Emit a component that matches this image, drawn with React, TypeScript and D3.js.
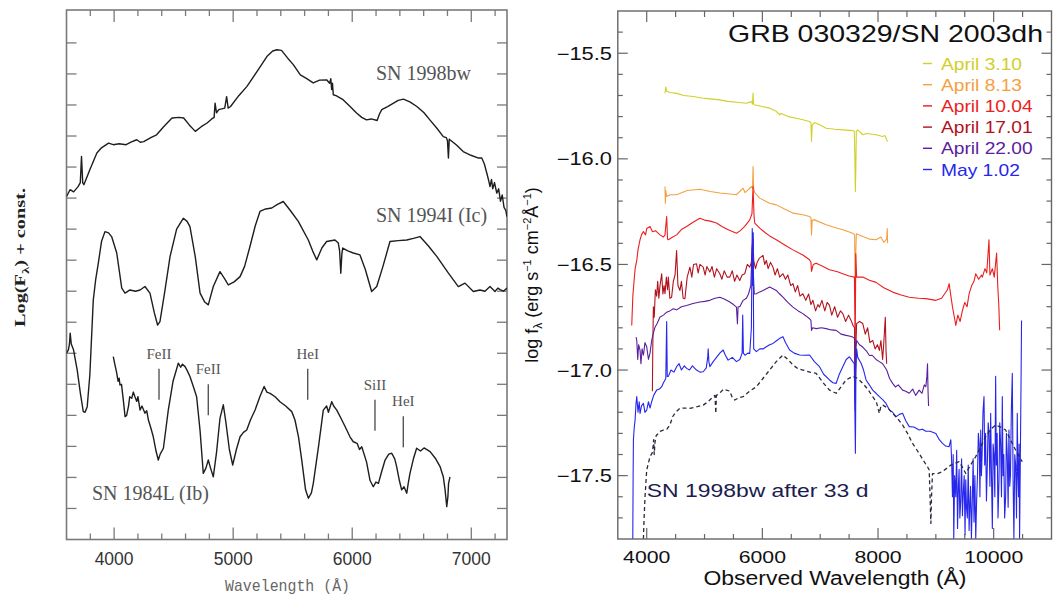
import React from "react";
import * as d3 from "d3";

type P = [number, number];

// ---------------- Left panel data (wavelength Å, log F + const, tick units) ----------------
const sn1998bw: P[] = [
  [3600, 11.05], [3630, 11.27], [3660, 11.2], [3697, 11.37], [3716, 11.5], [3726, 12.34], [3736, 11.5], [3746, 11.43],
  [3796, 11.91], [3855, 12.45], [3894, 12.62], [3953, 12.77], [3993, 12.72], [4042, 12.75], [4101, 12.72], [4141, 12.8],
  [4190, 12.88], [4220, 12.8], [4249, 12.82], [4308, 12.95], [4357, 13.04], [4416, 13.3], [4486, 13.58], [4545, 13.6],
  [4584, 13.58], [4633, 13.35], [4682, 13.15], [4732, 13.3], [4781, 13.42], [4820, 13.55], [4840, 13.6], [4848, 14.06],
  [4860, 13.75], [4879, 13.85], [4929, 13.9], [4945, 14.27], [4958, 13.9], [4978, 13.95], [5047, 14.3], [5116, 14.6],
  [5204, 15.1], [5283, 15.56], [5332, 15.74], [5367, 15.78], [5406, 15.76], [5460, 15.5], [5505, 15.3], [5564, 14.97],
  [5618, 14.85], [5672, 14.71], [5726, 14.8], [5785, 14.81], [5810, 14.7], [5820, 14.85], [5827, 14.5], [5834, 14.7],
  [5841, 14.33], [5864, 14.3], [5923, 14.17], [5982, 13.95], [6036, 13.74], [6080, 13.6], [6120, 13.52], [6160, 13.55],
  [6209, 13.5], [6228, 13.7], [6248, 13.85], [6297, 13.95], [6347, 14.06], [6386, 14.15], [6430, 14.19], [6484, 14.1],
  [6543, 13.95], [6603, 13.75], [6652, 13.52], [6711, 13.25], [6765, 12.98], [6790, 12.95], [6800, 12.85], [6808, 12.29],
  [6815, 12.9], [6821, 12.88], [6878, 12.7], [6932, 12.5], [6997, 12.38], [7061, 12.29], [7088, 12.29], [7110, 12.1],
  [7130, 11.81], [7144, 11.6], [7157, 11.37], [7170, 11.6], [7180, 11.3], [7195, 11.5], [7214, 11.16], [7230, 11.3],
  [7245, 10.9], [7260, 11.1], [7275, 10.7], [7290, 10.6], [7300, 10.4],
];

const sn1994I: P[] = [
  [3600, 6.0], [3616, 6.11], [3625, 6.3], [3631, 6.65], [3640, 6.3], [3659, 6.11], [3690, 5.46], [3717, 4.7],
  [3741, 4.12], [3756, 4.1], [3774, 4.28], [3796, 5.3], [3825, 7.72], [3846, 8.4], [3867, 8.9], [3894, 9.6],
  [3923, 9.92], [3953, 9.88], [3979, 9.76], [4022, 9.23], [4064, 8.1], [4092, 7.94], [4133, 8.04], [4180, 8.0],
  [4218, 8.04], [4259, 8.15], [4301, 7.94], [4338, 7.3], [4365, 6.91], [4385, 7.02], [4426, 8.0], [4470, 9.12],
  [4525, 10.0], [4581, 10.35], [4613, 10.25], [4637, 10.08], [4682, 9.1], [4722, 7.94], [4761, 7.65], [4791, 7.56],
  [4833, 8.15], [4889, 8.63], [4929, 8.4], [4959, 8.2], [5008, 8.3], [5058, 8.47], [5096, 8.8], [5141, 9.44],
  [5185, 10.1], [5225, 10.57], [5273, 10.65], [5324, 10.68], [5372, 10.8], [5421, 10.89], [5480, 10.6], [5547, 10.25],
  [5631, 9.65], [5667, 9.3], [5702, 9.01], [5746, 9.4], [5785, 9.6], [5855, 9.65], [5883, 9.55], [5894, 9.3],
  [5904, 8.58], [5913, 9.2], [5920, 9.39], [5963, 9.3], [6009, 9.23], [6065, 9.17], [6110, 8.7], [6163, 7.99],
  [6206, 8.15], [6258, 8.8], [6317, 9.6], [6386, 9.63], [6458, 9.65], [6514, 9.7], [6569, 9.76], [6642, 9.45],
  [6710, 9.12], [6808, 8.58], [6891, 8.15], [6947, 8.26], [7017, 7.99], [7073, 8.04], [7115, 8.0], [7157, 8.15],
  [7199, 7.99], [7223, 8.1], [7242, 8.05], [7270, 8.0], [7300, 8.1],
];

const sn1984L: P[] = [
  [3993, 5.89], [4003, 5.7], [4022, 5.36], [4033, 5.1], [4042, 5.2], [4049, 4.98], [4062, 5.0], [4077, 4.5],
  [4092, 3.96], [4105, 4.0], [4121, 4.3], [4131, 4.6], [4148, 4.55], [4161, 4.75], [4175, 4.6], [4190, 4.45],
  [4200, 4.6], [4218, 4.17], [4234, 4.3], [4259, 4.07], [4274, 4.15], [4288, 3.85], [4308, 3.6], [4329, 3.31],
  [4352, 2.85], [4371, 2.56], [4387, 2.75], [4414, 2.94], [4436, 3.6], [4455, 4.17], [4495, 5.1], [4539, 5.68],
  [4559, 5.55], [4574, 5.65], [4596, 5.57], [4613, 5.45], [4637, 5.25], [4668, 4.9], [4693, 4.6], [4722, 3.5],
  [4749, 2.13], [4771, 2.3], [4791, 2.56], [4810, 2.3], [4833, 2.02], [4860, 2.8], [4889, 3.9], [4917, 4.34],
  [4938, 3.8], [4968, 2.9], [4996, 2.4], [5027, 2.9], [5058, 3.31], [5086, 3.45], [5114, 3.53], [5145, 3.85],
  [5184, 4.17], [5224, 4.6], [5260, 4.93], [5283, 4.75], [5310, 4.71], [5352, 4.6], [5393, 4.44], [5441, 4.3],
  [5492, 4.12], [5519, 3.85], [5549, 3.3], [5576, 2.56], [5608, 1.6], [5632, 1.33], [5657, 1.5], [5673, 1.81],
  [5717, 3.0], [5757, 4.17], [5785, 4.3], [5800, 4.1], [5828, 4.44], [5844, 4.3], [5870, 4.17], [5913, 3.85],
  [5954, 3.53], [5982, 3.3], [6009, 3.15], [6041, 3.1], [6061, 2.9], [6080, 2.99], [6120, 2.5], [6150, 1.9],
  [6177, 1.7], [6199, 1.85], [6220, 1.81], [6248, 2.2], [6276, 2.56], [6307, 2.75], [6332, 2.78], [6357, 2.6],
  [6373, 2.35], [6396, 1.9], [6415, 1.6], [6435, 1.7], [6458, 1.49], [6470, 1.8], [6485, 2.13], [6514, 2.6],
  [6541, 2.94], [6573, 2.85], [6603, 2.95], [6654, 2.83], [6701, 2.6], [6738, 2.35], [6750, 2.2], [6765, 2.02],
  [6780, 1.6], [6794, 1.06], [6804, 1.4], [6809, 1.8], [6821, 2.02],
];

const lineLabels = ["FeII", "FeII", "HeI", "SiII", "HeI"];
const lineWaves = [4377, 4791, 5626, 6191, 6429];
const lineTops = [5.5, 5.0, 5.5, 4.5, 3.97];

const spLabels = ["SN 1998bw", "SN 1994I (Ic)", "SN 1984L (Ib)"];

const leftMajorX = [4000, 5000, 6000, 7000];
const leftMinorX = [3800, 4200, 4400, 4600, 4800, 5200, 5400, 5600, 5800, 6200, 6400, 6600, 6800, 7200];
const leftYTicks = [1, 2, 3, 4, 5, 6, 7, 8, 9, 10, 11, 12, 13, 14, 15, 16];

// ---------------- Right panel data (observed wavelength Å, log f_lambda) ----------------
const april03: P[] = [
  [4316, -15.69], [4330, -15.66], [4345, -15.68], [4402, -15.686], [4520, -15.69], [4640, -15.7], [4805, -15.705],
  [4950, -15.712], [5100, -15.716], [5264, -15.721], [5400, -15.728], [5552, -15.732], [5724, -15.737], [5810, -15.729],
  [5830, -15.74], [5839, -15.689], [5847, -15.735], [5856, -15.744], [6000, -15.752], [6126, -15.76], [6241, -15.775],
  [6299, -15.792], [6320, -15.785], [6450, -15.8], [6586, -15.808], [6700, -15.815], [6816, -15.823], [6840, -15.83],
  [6850, -15.918], [6862, -15.84], [6902, -15.828], [7000, -15.84], [7103, -15.855], [7250, -15.86], [7391, -15.863],
  [7500, -15.865], [7563, -15.866], [7590, -15.87], [7600, -16.0], [7608, -16.155], [7616, -16.05], [7625, -15.87],
  [7649, -15.863], [7736, -15.886], [7800, -15.88], [7966, -15.886], [8080, -15.894], [8120, -15.89], [8150, -15.91],
  [8166, -15.918],
];

const april08: P[] = [
  [4316, -16.131], [4322, -16.21], [4330, -16.15], [4345, -16.178], [4400, -16.17], [4517, -16.17], [4700, -16.15],
  [4920, -16.144], [5100, -16.155], [5264, -16.162], [5400, -16.165], [5552, -16.17], [5667, -16.139], [5700, -16.16],
  [5753, -16.147], [5810, -16.131], [5830, -16.14], [5839, -16.036], [5848, -16.14], [5868, -16.16], [5954, -16.186],
  [6126, -16.21], [6241, -16.218], [6400, -16.24], [6529, -16.257], [6700, -16.265], [6816, -16.273], [6840, -16.28],
  [6850, -16.36], [6862, -16.29], [6902, -16.289], [7103, -16.312], [7250, -16.325], [7391, -16.336], [7563, -16.352],
  [7595, -16.36], [7605, -16.62], [7615, -16.45], [7625, -16.355], [7736, -16.368], [7850, -16.38], [7966, -16.383],
  [8050, -16.37], [8100, -16.395], [8150, -16.38], [8160, -16.33], [8166, -16.4],
];

const april10: P[] = [
  [3741, -16.789], [3760, -16.65], [3782, -16.576], [3800, -16.52], [3828, -16.481], [3850, -16.43], [3885, -16.383],
  [3910, -16.36], [3943, -16.344], [3980, -16.36], [4000, -16.33], [4057, -16.32], [4100, -16.345], [4150, -16.34],
  [4230, -16.36], [4290, -16.37], [4316, -16.36], [4345, -16.273], [4360, -16.38], [4374, -16.383], [4450, -16.37],
  [4517, -16.36], [4600, -16.335], [4690, -16.32], [4800, -16.3], [4920, -16.281], [5000, -16.29], [5100, -16.295],
  [5207, -16.304], [5300, -16.32], [5400, -16.335], [5552, -16.352], [5620, -16.34], [5695, -16.32], [5782, -16.289],
  [5820, -16.26], [5839, -16.131], [5856, -16.27], [5868, -16.304], [5954, -16.328], [6050, -16.35], [6126, -16.365],
  [6241, -16.383], [6400, -16.41], [6529, -16.431], [6700, -16.455], [6816, -16.478], [6840, -16.49], [6850, -16.533],
  [6880, -16.5], [6931, -16.494], [7050, -16.51], [7161, -16.525], [7300, -16.535], [7391, -16.544], [7500, -16.555],
  [7592, -16.56], [7605, -16.907], [7615, -16.45], [7630, -16.56], [7736, -16.56], [7850, -16.575], [7966, -16.585],
  [8100, -16.61], [8253, -16.631], [8400, -16.645], [8540, -16.655], [8700, -16.66], [8827, -16.662], [9000, -16.67],
  [9100, -16.66], [9200, -16.62], [9230, -16.591], [9260, -16.65], [9287, -16.7], [9320, -16.75], [9345, -16.789],
  [9380, -16.74], [9420, -16.77], [9460, -16.718], [9500, -16.68], [9540, -16.7], [9575, -16.639], [9620, -16.6],
  [9660, -16.58], [9690, -16.544], [9740, -16.57], [9790, -16.55], [9804, -16.56], [9850, -16.52], [9880, -16.54],
  [9919, -16.383], [9935, -16.55], [9977, -16.52], [10010, -16.56], [10051, -16.446], [10070, -16.6], [10090, -16.7],
  [10103, -16.812],
];

const april17: P[] = [
  [4098, -17.1], [4105, -16.9], [4115, -16.7], [4130, -16.75], [4150, -16.62], [4172, -16.65], [4190, -16.58],
  [4210, -16.66], [4230, -16.6], [4259, -16.544], [4280, -16.64], [4300, -16.6], [4316, -16.639], [4340, -16.56],
  [4360, -16.62], [4374, -16.56], [4400, -16.66], [4431, -16.655], [4460, -16.58], [4490, -16.55], [4517, -16.434],
  [4540, -16.6], [4575, -16.623], [4600, -16.58], [4630, -16.66], [4661, -16.662], [4700, -16.56], [4747, -16.513],
  [4780, -16.56], [4810, -16.5], [4862, -16.497], [4890, -16.54], [4920, -16.5], [4977, -16.513], [5010, -16.55],
  [5040, -16.51], [5092, -16.536], [5130, -16.51], [5170, -16.56], [5210, -16.52], [5264, -16.544], [5300, -16.57],
  [5340, -16.53], [5390, -16.56], [5437, -16.56], [5480, -16.53], [5520, -16.58], [5560, -16.55], [5609, -16.576],
  [5650, -16.55], [5695, -16.544], [5740, -16.5], [5782, -16.513], [5810, -16.49], [5825, -16.42], [5839, -16.38],
  [5850, -16.48], [5880, -16.52], [5910, -16.49], [5950, -16.47], [6011, -16.457], [6040, -16.5], [6069, -16.481],
  [6100, -16.52], [6140, -16.49], [6184, -16.513], [6220, -16.55], [6260, -16.52], [6300, -16.56], [6356, -16.544],
  [6400, -16.57], [6440, -16.55], [6490, -16.6], [6529, -16.591], [6570, -16.63], [6610, -16.6], [6650, -16.65],
  [6701, -16.639], [6750, -16.67], [6800, -16.64], [6840, -16.69], [6874, -16.67], [6920, -16.72], [6960, -16.69],
  [6988, -16.702], [7030, -16.67], [7080, -16.72], [7120, -16.68], [7161, -16.694], [7200, -16.74], [7250, -16.7],
  [7300, -16.75], [7350, -16.72], [7391, -16.733], [7440, -16.77], [7490, -16.74], [7534, -16.765], [7570, -16.79],
  [7595, -16.8], [7605, -17.19], [7615, -16.9], [7630, -16.78], [7680, -16.77], [7736, -16.78], [7780, -16.83],
  [7820, -16.8], [7860, -16.87], [7908, -16.86], [7950, -16.9], [7990, -16.88], [8023, -16.907], [8050, -16.86],
  [8080, -16.95], [8100, -16.87], [8126, -16.75], [8140, -16.92], [8150, -16.97],
];

const april22: P[] = [
  [3816, -16.844], [3828, -16.86], [3845, -16.95], [3860, -16.88], [3885, -16.907], [3900, -16.97], [3920, -16.9],
  [3943, -16.93], [3970, -16.87], [4000, -16.89], [4030, -16.95], [4057, -16.92], [4086, -16.86], [4110, -16.83],
  [4144, -16.797], [4180, -16.78], [4230, -16.749], [4290, -16.74], [4345, -16.726], [4400, -16.72], [4460, -16.71],
  [4517, -16.715], [4600, -16.7], [4690, -16.694], [4800, -16.685], [4920, -16.678], [5000, -16.675], [5092, -16.67],
  [5180, -16.66], [5264, -16.655], [5350, -16.665], [5437, -16.678], [5500, -16.69], [5552, -16.702], [5569, -16.781],
  [5580, -16.7], [5609, -16.7], [5667, -16.67], [5724, -16.66], [5760, -16.64], [5800, -16.6], [5820, -16.45],
  [5835, -16.35], [5845, -16.55], [5860, -16.64], [5897, -16.639], [5954, -16.63], [6011, -16.623], [6069, -16.615],
  [6126, -16.607], [6184, -16.615], [6241, -16.623], [6300, -16.64], [6356, -16.655], [6440, -16.68], [6529, -16.702],
  [6620, -16.72], [6701, -16.733], [6760, -16.745], [6816, -16.757], [6840, -16.765], [6850, -16.812], [6870, -16.8],
  [6931, -16.804], [7020, -16.8], [7103, -16.804], [7190, -16.81], [7276, -16.812], [7360, -16.83], [7448, -16.836],
  [7520, -16.84], [7563, -16.844], [7595, -16.85], [7605, -17.15], [7615, -16.9], [7630, -16.86], [7680, -16.88],
  [7736, -16.891], [7800, -16.91], [7851, -16.931], [7900, -16.93], [7966, -16.95], [8023, -16.96], [8080, -16.97],
  [8150, -17.0], [8200, -17.04], [8253, -17.063], [8300, -17.08], [8350, -17.07], [8425, -17.095], [8480, -17.1],
  [8540, -17.11], [8600, -17.09], [8650, -17.12], [8712, -17.095], [8760, -17.11], [8800, -17.07], [8827, -17.079],
  [8845, -17.03], [8856, -16.97], [8865, -17.1], [8874, -17.17],
];

const may01: P[] = [
  [3759, -17.8], [3765, -17.5], [3770, -17.33], [3785, -17.27], [3799, -17.237], [3815, -17.16], [3828, -17.126],
  [3850, -17.2], [3870, -17.15], [3885, -17.205], [3910, -17.17], [3943, -17.158], [3970, -17.2], [4000, -17.19],
  [4030, -17.15], [4057, -17.18], [4086, -17.15], [4120, -17.12], [4172, -17.095], [4220, -17.09], [4259, -17.079],
  [4290, -17.06], [4316, -17.047], [4330, -17.04], [4345, -16.77], [4355, -17.03], [4374, -17.03], [4420, -17.0],
  [4470, -17.01], [4517, -16.984], [4560, -16.97], [4600, -17.0], [4650, -16.98], [4690, -16.992], [4740, -17.0],
  [4790, -16.98], [4862, -17.0], [4920, -17.01], [4977, -17.008], [5030, -16.99], [5055, -16.94], [5063, -16.9],
  [5075, -16.96], [5092, -16.984], [5150, -16.96], [5207, -16.94], [5264, -16.92], [5322, -16.905], [5360, -16.93],
  [5408, -16.953], [5480, -16.94], [5552, -16.96], [5610, -16.95], [5650, -16.92], [5660, -16.74], [5672, -16.92],
  [5700, -16.93], [5750, -16.92], [5782, -16.921], [5810, -16.8], [5825, -16.33], [5835, -16.6], [5840, -16.35],
  [5850, -16.9], [5897, -16.913], [5954, -16.9], [6011, -16.9], [6069, -16.89], [6126, -16.88], [6184, -16.874],
  [6250, -16.86], [6300, -16.85], [6356, -16.842], [6400, -16.87], [6471, -16.905], [6550, -16.92], [6644, -16.929],
  [6720, -16.93], [6816, -16.929], [6900, -16.96], [6988, -16.984], [7060, -17.02], [7161, -17.047], [7220, -17.06],
  [7276, -17.063], [7330, -17.02], [7391, -16.984], [7450, -16.95], [7506, -16.937], [7563, -16.96], [7590, -16.97],
  [7600, -17.2], [7609, -17.394], [7618, -17.0], [7630, -16.9], [7649, -16.94], [7707, -16.968], [7750, -17.0],
  [7793, -17.047], [7850, -17.07], [7908, -17.095], [7966, -17.11], [8023, -17.126], [8080, -17.14], [8138, -17.158],
  [8200, -17.19], [8253, -17.2], [8310, -17.221], [8370, -17.21], [8425, -17.205], [8480, -17.24], [8540, -17.268],
  [8620, -17.27], [8712, -17.284], [8770, -17.28], [8827, -17.29], [8900, -17.29], [9000, -17.3], [9060, -17.33],
  [9115, -17.347], [9170, -17.36], [9230, -17.363], [9259, -17.33], [9275, -17.45], [9287, -17.6], [9300, -17.4],
  [9310, -17.8], [9325, -17.5], [9345, -17.6], [9360, -17.38], [9375, -17.75], [9390, -17.55], [9402, -17.47],
  [9415, -17.7], [9430, -17.62], [9445, -17.42], [9460, -17.69], [9475, -17.58], [9490, -17.5], [9505, -17.78],
  [9517, -17.52], [9530, -17.65], [9545, -17.7], [9560, -17.45], [9575, -17.76], [9590, -17.62], [9600, -17.55],
  [9615, -17.8], [9632, -17.6], [9645, -17.42], [9660, -17.72], [9675, -17.5], [9690, -17.8], [9705, -17.62],
  [9720, -17.5], [9735, -17.3], [9750, -17.35], [9762, -17.6], [9776, -17.284], [9788, -17.5], [9800, -17.4],
  [9815, -17.2], [9833, -17.126], [9845, -17.45], [9860, -17.3], [9875, -17.62], [9891, -17.44], [9905, -17.25],
  [9920, -17.3], [9935, -17.55], [9948, -17.205], [9962, -17.5], [9977, -17.75], [9990, -17.35], [10005, -17.4],
  [10020, -17.6], [10034, -17.03], [10046, -17.45], [10060, -17.3], [10075, -17.7], [10092, -17.52], [10105, -17.25],
  [10120, -17.35], [10135, -17.6], [10149, -17.126], [10162, -17.5], [10175, -17.4], [10190, -17.7], [10207, -17.6],
  [10220, -17.3], [10235, -17.4], [10250, -17.65], [10264, -17.284], [10278, -17.55], [10290, -17.5], [10305, -17.2],
  [10322, -17.016], [10335, -17.5], [10350, -17.8], [10365, -17.4], [10380, -17.45], [10395, -17.7], [10408, -17.205],
  [10420, -17.5], [10430, -17.6], [10440, -17.35], [10448, -17.8], [10458, -17.5], [10465, -17.3], [10475, -17.0],
  [10482, -16.765],
];

const sn1998bw33d: P[] = [
  [3943, -17.8], [3955, -17.7], [3971, -17.6], [4000, -17.473], [4030, -17.44], [4057, -17.41], [4100, -17.39],
  [4120, -17.33], [4130, -17.4], [4144, -17.34], [4165, -17.31], [4201, -17.3], [4230, -17.29], [4287, -17.284],
  [4350, -17.28], [4402, -17.26], [4450, -17.22], [4500, -17.2], [4575, -17.181], [4650, -17.18], [4747, -17.181],
  [4850, -17.175], [4977, -17.166], [5060, -17.15], [5149, -17.126], [5180, -17.12], [5195, -17.205], [5205, -17.12],
  [5260, -17.11], [5330, -17.09], [5379, -17.095], [5437, -17.1], [5480, -17.13], [5523, -17.142], [5600, -17.13],
  [5667, -17.126], [5780, -17.1], [5897, -17.079], [6010, -17.04], [6126, -17.0], [6240, -16.96], [6356, -16.929],
  [6440, -16.95], [6529, -16.976], [6620, -16.995], [6701, -17.0], [6820, -17.01], [6931, -17.016], [7050, -17.06],
  [7161, -17.095], [7276, -17.11], [7360, -17.08], [7448, -17.047], [7563, -17.03], [7650, -17.04], [7736, -17.063],
  [7820, -17.09], [7908, -17.126], [7970, -17.15], [8023, -17.205], [8050, -17.17], [8080, -17.166], [8170, -17.18],
  [8253, -17.205], [8340, -17.23], [8425, -17.26], [8510, -17.3], [8597, -17.347], [8700, -17.39], [8798, -17.434],
  [8860, -17.46], [8885, -17.473], [8900, -17.6], [8914, -17.726], [8925, -17.6], [8942, -17.49], [9030, -17.49],
  [9115, -17.481], [9260, -17.45], [9402, -17.434], [9460, -17.46], [9517, -17.49], [9600, -17.45], [9690, -17.41],
  [9780, -17.36], [9862, -17.315], [9950, -17.28], [10034, -17.26], [10120, -17.27], [10207, -17.284], [10290, -17.33],
  [10379, -17.379], [10494, -17.434],
];

const epochLabels = ["April 3.10", "April 8.13", "April 10.04", "April 17.01", "April 22.00", "May 1.02"];
const epochColors = ["#d0d028", "#f4a042", "#ec1e1e", "#b2121e", "#5a1e9e", "#2626ec"];
const epochSeries = [april03, april08, april10, april17, april22, may01];

const rightMajorX = [4000, 6000, 8000, 10000];
const rightMinorX = [4500, 5000, 5500, 6500, 7000, 7500, 8500, 9000, 9500, 10500];
const rightMajorY = [-15.5, -16.0, -16.5, -17.0, -17.5];
const rightMinorY = [-15.4, -15.6, -15.7, -15.8, -15.9, -16.1, -16.2, -16.3, -16.4, -16.6, -16.7, -16.8, -16.9,
  -17.1, -17.2, -17.3, -17.4, -17.6, -17.7];

// ---------------- Scales ----------------
const xL = d3.scaleLinear().domain([3600, 7300]).range([66.5, 507]);
const yL = d3.scaleLinear().domain([0, 17.06]).range([539.5, 10]);
const xR = d3.scaleLinear().domain([3500, 11000]).range([617.8, 1051.5]);
const yR = d3.scaleLinear().domain([-17.8, -15.3]).range([539, 11]);

const lineL = d3.line<P>().x((d) => xL(d[0])).y((d) => yL(d[1]));
const lineR = d3.line<P>().x((d) => xR(d[0])).y((d) => yR(d[1]));

const SANS = "'Liberation Sans', Arial, Helvetica, sans-serif";
const SERIF = "'Liberation Serif', 'Times New Roman', serif";
const MONO = "'Liberation Mono', 'Courier New', monospace";

const fmtY = (v: number) => (v < 0 ? "\u2212" : "") + Math.abs(v).toFixed(1);

export default function App() {
  const [l0, l1] = xL.range();
  const [lb, lt] = yL.range();
  const [r0, r1] = xR.range();
  const [rb, rt] = yR.range();
  const lc = "#7a7a7a";
  const rc = "#666";

  return (
    <svg
      width={1053}
      height={599}
      style={{ position: "absolute", left: 0, top: 0, background: "#fff" }}
      xmlns="http://www.w3.org/2000/svg"
    >
      <defs>
        <clipPath id="clipL">
          <rect x={l0} y={lt} width={l1 - l0} height={lb - lt} />
        </clipPath>
        <clipPath id="clipR">
          <rect x={r0} y={rt} width={r1 - r0} height={rb - rt} />
        </clipPath>
      </defs>

      {/* ================= LEFT PANEL ================= */}
      <g>
        {leftYTicks.map((t) => (
          <g key={"ly" + t} stroke={lc} strokeWidth={1.3}>
            <line x1={l0} x2={l0 + 10} y1={yL(t)} y2={yL(t)} />
            <line x1={l1} x2={l1 - 10} y1={yL(t)} y2={yL(t)} />
          </g>
        ))}
        {leftMajorX.map((t) => (
          <g key={"lx" + t} stroke={lc} strokeWidth={1.3}>
            <line x1={xL(t)} x2={xL(t)} y1={lb} y2={lb - 12} />
            <line x1={xL(t)} x2={xL(t)} y1={lt} y2={lt + 12} />
          </g>
        ))}
        {leftMinorX.map((t) => (
          <g key={"lxm" + t} stroke={lc} strokeWidth={1.3}>
            <line x1={xL(t)} x2={xL(t)} y1={lb} y2={lb - 6} />
            <line x1={xL(t)} x2={xL(t)} y1={lt} y2={lt + 6} />
          </g>
        ))}
        <rect x={l0} y={lt} width={l1 - l0} height={lb - lt} fill="none" stroke={lc} strokeWidth={1.6} />

        <g clipPath="url(#clipL)" fill="none" stroke="#1e1e1e" strokeWidth={1.4} strokeLinejoin="round">
          <path d={lineL(sn1998bw) || ""} />
          <path d={lineL(sn1994I) || ""} />
          <path d={lineL(sn1984L) || ""} />
        </g>

        {lineWaves.map((w, i) => (
          <g key={"id" + i}>
            <line x1={xL(w)} x2={xL(w)} y1={yL(lineTops[i])} y2={yL(lineTops[i] - 1)} stroke="#555" strokeWidth={1.4} />
            <text x={xL(w)} y={yL(lineTops[i]) - 10} textAnchor="middle" fontFamily={SERIF} fontSize={15} fill="#555">
              {lineLabels[i]}
            </text>
          </g>
        ))}

        <text x={376} y={80} fontFamily={SERIF} fontSize={20} fill="#555">{spLabels[0]}</text>
        <text x={376} y={221.5} fontFamily={SERIF} fontSize={20} fill="#555">{spLabels[1]}</text>
        <text x={92} y={500} fontFamily={SERIF} fontSize={20} fill="#555">{spLabels[2]}</text>

        {leftMajorX.map((t) => (
          <text key={"lxl" + t} x={xL(t)} y={565} textAnchor="middle" fontFamily={SANS} fontSize={17.5} fill="#333">
            {t}
          </text>
        ))}
        <text x={287.5} y={591} textAnchor="middle" fontFamily={MONO} fontSize={17} fill="#666"
          textLength={125} lengthAdjust="spacingAndGlyphs">
          Wavelength (Å)
        </text>
        <text transform="translate(25,257.5) rotate(-90)" textAnchor="middle" fontFamily={SERIF} fontWeight="bold"
          fontSize={15} fill="#222" textLength={139} lengthAdjust="spacingAndGlyphs">
          Log(F<tspan dy={4} fontSize={11}>λ</tspan><tspan dy={-4}>) + const.</tspan>
        </text>
      </g>

      {/* ================= RIGHT PANEL ================= */}
      <g>
        {rightMajorY.map((t) => (
          <g key={"ry" + t} stroke={rc} strokeWidth={1.2}>
            <line x1={r0} x2={r0 + 10} y1={yR(t)} y2={yR(t)} />
            <line x1={r1} x2={r1 - 10} y1={yR(t)} y2={yR(t)} />
          </g>
        ))}
        {rightMinorY.map((t) => (
          <g key={"rym" + t} stroke={rc} strokeWidth={1.2}>
            <line x1={r0} x2={r0 + 5} y1={yR(t)} y2={yR(t)} />
            <line x1={r1} x2={r1 - 5} y1={yR(t)} y2={yR(t)} />
          </g>
        ))}
        {rightMajorX.map((t) => (
          <g key={"rx" + t} stroke={rc} strokeWidth={1.2}>
            <line x1={xR(t)} x2={xR(t)} y1={rb} y2={rb - 11} />
            <line x1={xR(t)} x2={xR(t)} y1={rt} y2={rt + 11} />
          </g>
        ))}
        {rightMinorX.map((t) => (
          <g key={"rxm" + t} stroke={rc} strokeWidth={1.2}>
            <line x1={xR(t)} x2={xR(t)} y1={rb} y2={rb - 5} />
            <line x1={xR(t)} x2={xR(t)} y1={rt} y2={rt + 6} />
          </g>
        ))}

        <g clipPath="url(#clipR)" fill="none" strokeLinejoin="round">
          {epochSeries.map((s, i) => (
            <path key={"ep" + i} d={lineR(s) || ""} stroke={epochColors[i]} strokeWidth={1.1} />
          ))}
          <path d={lineR(sn1998bw33d) || ""} stroke="#2a2a3c" strokeWidth={1.3} strokeDasharray="4,3" />
        </g>

        <rect x={r0} y={rt} width={r1 - r0} height={rb - rt} fill="none" stroke={rc} strokeWidth={1.4} />

        <text x={1043} y={41.5} textAnchor="end" fontFamily={SANS} fontSize={24} fill="#111"
          textLength={315} lengthAdjust="spacingAndGlyphs">
          GRB 030329/SN 2003dh
        </text>

        {epochLabels.map((lab, i) => {
          const cy = 63.5 + i * 21.2;
          return (
            <g key={"lg" + i}>
              <rect x={923} y={cy - 0.7} width={9} height={1.4} fill={epochColors[i]} />
              <text transform={`translate(941,${cy + 6}) scale(1.2,1)`} fontFamily={SANS} fontSize={16}
                fill={epochColors[i]}>
                {lab}
              </text>
            </g>
          );
        })}

        <text transform="translate(646.7,496.7) scale(1.24,1)" fontFamily={SANS} fontSize={18.5} fill="#1c1c4e">
          SN 1998bw after 33 d
        </text>

        {rightMajorX.map((t) => (
          <text key={"rxl" + t} transform={`translate(${xR(t)},563) scale(1.25,1)`} textAnchor="middle"
            fontFamily={SANS} fontSize={17} fill="#111">
            {t}
          </text>
        ))}
        {rightMajorY.map((t) => (
          <text key={"ryl" + t} transform={`translate(612,${yR(t) + 6.5}) scale(1.25,1)`} textAnchor="end"
            fontFamily={SANS} fontSize={17.5} fill="#111">
            {fmtY(t)}
          </text>
        ))}
        <text x={835} y={585} textAnchor="middle" fontFamily={SANS} fontSize={20} fill="#111"
          textLength={263} lengthAdjust="spacingAndGlyphs">
          Observed Wavelength (Å)
        </text>
        <text transform="translate(538,275) rotate(-90)" textAnchor="middle" fontFamily={SANS} fontSize={18} fill="#111">
          log f<tspan dy={4} fontSize={12}>λ</tspan>
          <tspan dy={-4}> (erg s</tspan>
          <tspan dy={-7} fontSize={11}>−1</tspan>
          <tspan dy={7}> cm</tspan>
          <tspan dy={-7} fontSize={11}>−2</tspan>
          <tspan dy={7}>Å</tspan>
          <tspan dy={-7} fontSize={11}>−1</tspan>
          <tspan dy={7}>)</tspan>
        </text>
      </g>
    </svg>
  );
}
